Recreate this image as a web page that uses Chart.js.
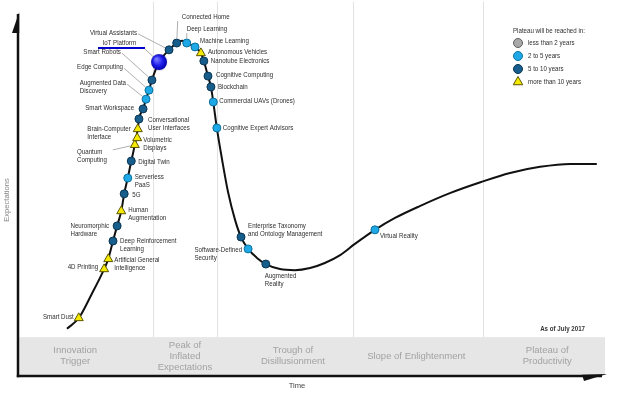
<!DOCTYPE html>
<html><head><meta charset="utf-8">
<script src="https://cdn.jsdelivr.net/npm/chart.js@4/dist/chart.umd.min.js"></script>
<style>html,body{margin:0;padding:0;background:#fff}#wrap{width:620px;height:395px;position:relative}</style>
</head><body><div id="wrap"><canvas id="c"></canvas></div>
<script>
// ---------- DATA (time / expectations units, 0-100) ----------
const curveX = [8.3,10.3,12.5,14.6,15.3,16.1,16.8,17.5,18.0,18.6,19.2,19.8,20.3,20.5,21.2,21.7,22.2,22.7,23.9,25.6,26.9,27.8,28.6,30.0,31.0,31.5,32.2,32.7,33.1,33.7,34.6,35.6,36.8,37.8,39.0,40.5,42.0,44.4,46.9,49.5,52.0,54.6,57.1,60.5,63.9,68.1,73.2,78.5,83.4,88.5,93.6,98.1];
const curveY = [13.1,16.1,22.8,29.7,32.5,37.5,41.7,45.8,50.6,55.0,59.7,64.2,68.6,71.4,74.2,76.9,79.4,82.2,87.2,90.6,92.5,93.1,92.5,91.4,89.7,87.5,83.3,80.3,76.1,68.9,60.0,51.1,43.3,38.6,35.3,32.8,31.1,29.7,29.4,30.0,31.4,33.6,36.7,40.6,43.9,47.2,50.8,53.9,56.4,58.1,58.9,58.9];

const techNames = ['Smart Dust','4D Printing','Artificial General\nIntelligence','Deep Reinforcement\nLearning','Neuromorphic\nHardware','Human\nAugmentation','5G','Serverless\nPaaS','Digital Twin','Quantum\nComputing','Volumetric\nDisplays','Brain-Computer\nInterface','Conversational\nUser Interfaces','Smart Workspace','Augmented Data\nDiscovery','Edge Computing','Smart Robots','IoT Platform','Virtual Assistants','Connected Home','Deep Learning','Machine Learning','Autonomous Vehicles','Nanotube Electronics','Cognitive Computing','Blockchain','Commercial UAVs (Drones)','Cognitive Expert Advisors','Enterprise Taxonomy\nand Ontology Management','Software-Defined\nSecurity','Augmented\nReality','Virtual Reality'];
const techX = [10.3,14.6,15.3,16.1,16.8,17.5,18.0,18.6,19.2,19.8,20.2,20.3,20.5,21.2,21.7,22.2,22.7,23.9,25.6,26.9,28.6,30.0,31.0,31.5,32.2,32.7,33.1,33.7,37.8,39.0,42.0,60.5];
const techY = [16.1,29.7,32.5,37.5,41.7,45.8,50.6,55.0,59.7,64.2,66.1,68.6,71.4,74.2,76.9,79.4,82.2,87.2,90.6,92.5,92.5,91.4,89.7,87.5,83.3,80.3,76.1,68.9,38.6,35.3,31.1,40.6];
// plateau: 1 = less than 2 years, 2 = 2 to 5 years, 3 = 5 to 10 years, 4 = more than 10 years, 0 = highlighted
const techPlateau = [4,4,4,3,3,4,3,2,3,4,4,4,3,3,2,2,3,0,3,3,2,2,4,3,3,3,2,2,3,2,3,2];

const legendTitle = 'Plateau will be reached in:';
const legendLabels = ['less than 2 years','2 to 5 years','5 to 10 years','more than 10 years'];
const phaseNames = ['Innovation\nTrigger','Peak of\nInflated\nExpectations','Trough of\nDisillusionment','Slope of Enlightenment','Plateau of\nProductivity'];
const phaseBounds = [22.9, 33.7, 56.8, 78.8];
const axisTitleX = 'Time';
const axisTitleY = 'Expectations';
const asOfText = 'As of July 2017';

// ---------- LAYOUT / STYLE ----------
const phaseLabelX = [9.7, 28.3, 46.6, 67.5, 89.7];
const band = {top: 10.8, bottom: 0.3, left: 0.2, right: 99.5};
const SANS = "'Liberation Sans',Arial,sans-serif";
const NS = 0.77; // horizontal condensing of label text
const styles = {
  1: {bg:'#a8a8a8', border:'#5e5e5e', shape:'circle', r:4},
  2: {bg:'#1ea8e6', border:'#0b6f9e', shape:'circle', r:4},
  3: {bg:'#175e8c', border:'#0a3552', shape:'circle', r:4},
  4: {bg:'#f5e900', border:'#5a5500', shape:'triangle', r:5.2}
};
// side L: block right edge at dot+dx; side R: block left edge at dot+dx. dy = first-line centre offset
const labelLayout = {
  'Smart Dust':{s:'L',dx:-5,dy:-1},
  '4D Printing':{s:'L',dx:-6,dy:-2},
  'Artificial General\nIntelligence':{s:'R',dx:6,dy:1},
  'Deep Reinforcement\nLearning':{s:'R',dx:7,dy:0},
  'Neuromorphic\nHardware':{s:'L',dx:-8,dy:0},
  'Human\nAugmentation':{s:'R',dx:7,dy:-1},
  '5G':{s:'R',dx:8,dy:1},
  'Serverless\nPaaS':{s:'R',dx:7,dy:-1},
  'Digital Twin':{s:'R',dx:7,dy:1},
  'Quantum\nComputing':{s:'L',dx:-28,dy:7,lead:[-22,5]},
  'Volumetric\nDisplays':{s:'R',dx:6,dy:2},
  'Brain-Computer\nInterface':{s:'L',dx:-7,dy:0},
  'Conversational\nUser Interfaces':{s:'R',dx:9,dy:1},
  'Smart Workspace':{s:'L',dx:-9,dy:-1},
  'Augmented Data\nDiscovery':{s:'L',dx:-20,dy:-16,lead:[-19,-15]},
  'Edge Computing':{s:'L',dx:-26,dy:-23,lead:[-25,-22]},
  'Smart Robots':{s:'L',dx:-31,dy:-28,lead:[-30,-27]},
  'IoT Platform':{s:'L',dx:-23,dy:-19,underline:[-61,-14,-14],lead:[-14,-13]},
  'Virtual Assistants':{s:'L',dx:-32,dy:-17,lead:[-31,-16]},
  'Connected Home':{s:'R',dx:5,dy:-26,lead:[1,-22]},
  'Deep Learning':{s:'R',dx:0,dy:-14,lead:[0,-10]},
  'Machine Learning':{s:'R',dx:5,dy:-6},
  'Autonomous Vehicles':{s:'R',dx:7,dy:-1},
  'Nanotube Electronics':{s:'R',dx:7,dy:0},
  'Cognitive Computing':{s:'R',dx:8,dy:-1},
  'Blockchain':{s:'R',dx:7,dy:0},
  'Commercial UAVs (Drones)':{s:'R',dx:6,dy:-1},
  'Cognitive Expert Advisors':{s:'R',dx:6,dy:0},
  'Enterprise Taxonomy\nand Ontology Management':{s:'R',dx:7,dy:-11},
  'Software-Defined\nSecurity':{s:'L',dx:-6,dy:1},
  'Augmented\nReality':{s:'R',dx:-1,dy:12},
  'Virtual Reality':{s:'R',dx:5,dy:6}
};

function makeHighlightDot(r) {
  const c = document.createElement('canvas');
  const s = Math.ceil(r * 2 + 2); c.width = s; c.height = s;
  const g = c.getContext('2d');
  const grd = g.createRadialGradient(s/2 - r*0.35, s/2 - r*0.4, r*0.1, s/2, s/2, r);
  grd.addColorStop(0, '#7a7aff'); grd.addColorStop(0.55, '#2020f0'); grd.addColorStop(1, '#0000a8');
  g.fillStyle = grd; g.beginPath(); g.arc(s/2, s/2, r, 0, Math.PI*2); g.fill();
  return c;
}
const highlightDot = makeHighlightDot(8);

function pointsFor(cat) {
  const out = [];
  techNames.forEach((n, i) => { if (techPlateau[i] === cat) out.push({x: techX[i], y: techY[i]}); });
  return out;
}

const datasets = [
  {label:'curve', data: curveX.map((x,i)=>({x, y: curveY[i]})), showLine:true, borderColor:'#111', borderWidth:2,
   pointRadius:0, tension:0.4, cubicInterpolationMode:'monotone', order:10, clip:false}
];
[1,2,3,4].forEach(cat => {
  const st = styles[cat];
  datasets.push({label: legendLabels[cat-1], data: pointsFor(cat), pointStyle: st.shape, pointRadius: st.r,
    backgroundColor: st.bg, borderColor: st.border, borderWidth: 1, showLine:false, order:1, clip:false});
});
datasets.push({label:'highlight', data: pointsFor(0), pointStyle: highlightDot, pointRadius: 8, showLine:false, order:0, clip:false});

function textW(ctx, t, sx) { return ctx.measureText(t).width * sx; }
function fillCond(ctx, t, x, y, align, sx) {
  const w = textW(ctx, t, sx);
  const x0 = align === 'right' ? x - w : align === 'center' ? x - w / 2 : x;
  ctx.save(); ctx.translate(x0, y); ctx.scale(sx, 1); ctx.textAlign = 'left'; ctx.fillText(t, 0, 0); ctx.restore();
}

function drawSymbol(ctx, cat, x, y, r) {
  const st = styles[cat];
  ctx.fillStyle = st.bg; ctx.strokeStyle = st.border; ctx.lineWidth = 1;
  ctx.beginPath();
  if (st.shape === 'triangle') {
    for (let k = 0; k < 3; k++) {
      const a = k * 2 * Math.PI / 3;
      const px = x + Math.sin(a) * r, py = y - Math.cos(a) * r;
      k ? ctx.lineTo(px, py) : ctx.moveTo(px, py);
    }
    ctx.closePath();
  } else ctx.arc(x, y, r, 0, Math.PI * 2);
  ctx.fill(); ctx.stroke();
}

const hypePlugin = {
  id: 'hype',
  beforeDatasetsDraw(chart) {
    const {ctx, scales: {x, y}} = chart;
    ctx.save();
    ctx.strokeStyle = '#e2e2e2'; ctx.lineWidth = 1;
    phaseBounds.forEach(b => {
      const px = Math.round(x.getPixelForValue(b)) + 0.5;
      ctx.beginPath(); ctx.moveTo(px, y.getPixelForValue(104)); ctx.lineTo(px, y.getPixelForValue(band.top)); ctx.stroke();
    });
    const bx0 = x.getPixelForValue(band.left), bx1 = x.getPixelForValue(band.right);
    const by0 = y.getPixelForValue(band.top), by1 = y.getPixelForValue(band.bottom);
    ctx.fillStyle = '#e6e6e6'; ctx.fillRect(bx0, by0, bx1 - bx0, by1 - by0);
    ctx.fillStyle = '#a2a2a2'; ctx.font = '9.5px ' + SANS; ctx.textAlign = 'center'; ctx.textBaseline = 'middle';
    const cy = (by0 + by1) / 2;
    phaseNames.forEach((n, i) => {
      const lines = n.split('\n'); const lh = 11;
      const px = x.getPixelForValue(phaseLabelX[i]);
      lines.forEach((ln, k) => ctx.fillText(ln, px, cy + (k - (lines.length - 1) / 2) * lh));
    });
    ctx.restore();
  },
  afterDatasetsDraw(chart) {
    const {ctx, scales: {x, y}, chartArea: ca} = chart;
    ctx.save();
    ctx.font = '8px ' + SANS; ctx.textBaseline = 'middle'; ctx.textAlign = 'left';
    techNames.forEach((n, i) => {
      const L = labelLayout[n]; if (!L) return;
      const px = x.getPixelForValue(techX[i]), py = y.getPixelForValue(techY[i]);
      const lines = n.split('\n');
      const w = Math.max(...lines.map(l => textW(ctx, l, NS)));
      const left = L.s === 'L' ? px + L.dx - w : px + L.dx;
      if (L.lead) {
        const sx = px + L.lead[0], sy = py + L.lead[1];
        const r = techPlateau[i] === 0 ? 8 : 4;
        const d = Math.hypot(px - sx, py - sy);
        const ex = px - (px - sx) / d * (r + 0.5), ey = py - (py - sy) / d * (r + 0.5);
        ctx.strokeStyle = '#9a9a9a'; ctx.lineWidth = 0.8;
        ctx.beginPath(); ctx.moveTo(sx, sy); ctx.lineTo(ex, ey); ctx.stroke();
      }
      if (L.underline) {
        ctx.strokeStyle = '#0000cc'; ctx.lineWidth = 2;
        ctx.beginPath(); ctx.moveTo(px + L.underline[0], py + L.underline[1]); ctx.lineTo(px + L.underline[2], py + L.underline[1]); ctx.stroke();
      }
      ctx.fillStyle = '#2e2e2e';
      lines.forEach((ln, k) => fillCond(ctx, ln, left, py + L.dy + k * 8, 'left', NS));
    });
    // legend
    const lx = ca.right - 95, ly = ca.top + 15;
    ctx.fillStyle = '#2e2e2e'; fillCond(ctx, legendTitle, lx, ly, 'left', NS);
    legendLabels.forEach((lab, k) => {
      const yy = ly + 12 + k * 13;
      drawSymbol(ctx, k + 1, lx + 5, yy, k === 3 ? 5.5 : 4.5);
      ctx.fillStyle = '#2e2e2e'; fillCond(ctx, lab, lx + 15, yy, 'left', NS);
    });
    // as of
    ctx.font = 'bold 8px ' + SANS; ctx.fillStyle = '#333';
    fillCond(ctx, asOfText, x.getPixelForValue(96.1), y.getPixelForValue(13), 'right', NS);
    ctx.restore();
  },
  afterDraw(chart) {
    const {ctx, chartArea: ca} = chart;
    ctx.save();
    ctx.strokeStyle = '#111'; ctx.fillStyle = '#111'; ctx.lineWidth = 2.5;
    ctx.beginPath(); ctx.moveTo(ca.left, ca.top - 2); ctx.lineTo(ca.left, ca.bottom + 1.2); ctx.stroke();
    ctx.beginPath(); ctx.moveTo(ca.left + 1.2, ca.top - 4); ctx.lineTo(ca.left - 6, ca.top + 17); ctx.lineTo(ca.left + 1.2, ca.top + 17); ctx.closePath(); ctx.fill();
    ctx.beginPath(); ctx.moveTo(ca.left - 1.2, ca.bottom); ctx.lineTo(ca.right - 6, ca.bottom); ctx.stroke();
    ctx.beginPath(); ctx.moveTo(ca.right - 26, ca.bottom - 1.2); ctx.lineTo(ca.right - 1, ca.bottom - 2); ctx.lineTo(ca.right - 24, ca.bottom + 5); ctx.closePath(); ctx.fill();
    ctx.font = '8px ' + SANS; ctx.textBaseline = 'middle';
    ctx.fillStyle = '#444'; fillCond(ctx, axisTitleX, (ca.left + ca.right) / 2 - 16, ca.bottom + 10, 'center', 0.95);
    ctx.save(); ctx.translate(ca.left - 11, ca.top + 184); ctx.rotate(-Math.PI / 2);
    ctx.fillStyle = '#888'; fillCond(ctx, axisTitleY, 0, 0, 'center', 0.95); ctx.restore();
    ctx.restore();
  }
};

new Chart(document.getElementById('c'), {
  type: 'scatter',
  data: {datasets},
  options: {
    responsive: true, maintainAspectRatio: false, animation: false,
    layout: {padding: {left: 18, right: 12, top: 16, bottom: 19}},
    scales: {
      x: {type: 'linear', min: 0, max: 100, display: false},
      y: {type: 'linear', min: 0, max: 100, display: false}
    },
    plugins: {legend: {display: false}, tooltip: {enabled: false}}
  },
  plugins: [hypePlugin]
});
</script></body></html>
